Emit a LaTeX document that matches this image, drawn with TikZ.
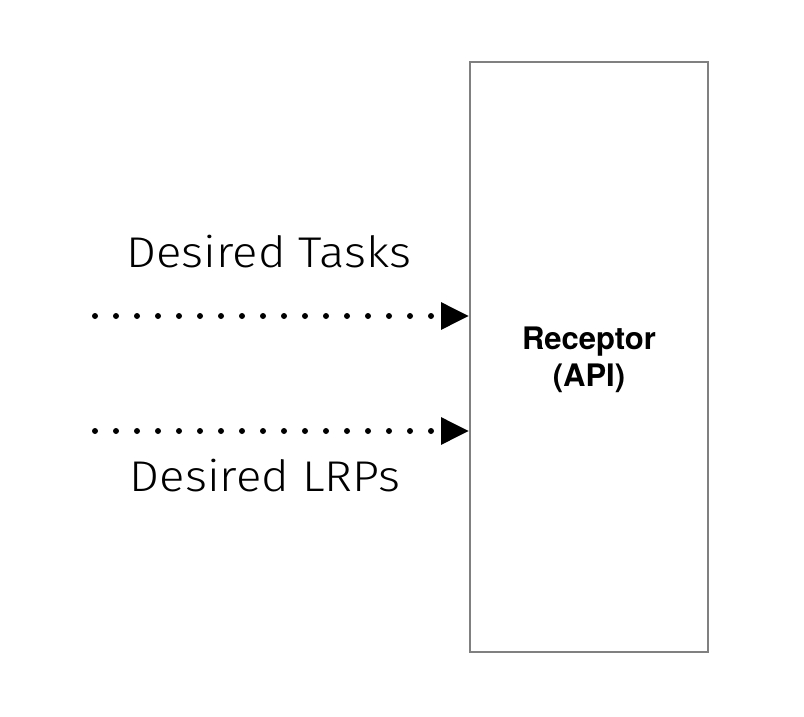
\documentclass[tikz,border=0pt]{standalone}
\usepackage{fontspec}
\setmainfont{TeX Gyre Heros}
\newfontfamily\thinfont{Fira Sans Light}[FakeStretch=1.1]
\usetikzlibrary{arrows.meta}
\usetikzlibrary{positioning}

\begin{document}
\begin{tikzpicture}[x=1pt, y=-1pt,
		recv/.style={draw=black!50, line width=2pt, minimum width=238pt, minimum height=590pt, inner sep=0pt},
		rtxt/.style={font=\fontsize{31}{28}\selectfont\bfseries, inner sep=0pt, anchor=base},
		flow/.style={line width=6pt, line cap=round, dash pattern=on 0pt off 21pt, -{Triangle[length=28pt, width=26pt, line cap=butt]}},
		lbl/.style={font=\fontsize{43}{50}\selectfont\thinfont, inner sep=0pt, anchor=base},
		]
		\useasboundingbox (0,0) rectangle (804,716);
		\node[recv] (rc) at (589, 357) {};
		\node[rtxt] (rct) at (589, 349) {Receptor};
		\node[rtxt] (api) at (589, 386) {(API)};
		\coordinate (tk) at (95, 316);
		\coordinate (lp) at (95, 431);
		\draw[flow] (tk) -- (tk -| rc.west);
		\draw[flow] (lp) -- (lp -| rc.west);
		\node[lbl] (tkl) at (269, 267) {Desired Tasks};
		\node[lbl] (lpl) at (265, 491) {Desired LRPs};
		
		\end{tikzpicture}
\end{document}
